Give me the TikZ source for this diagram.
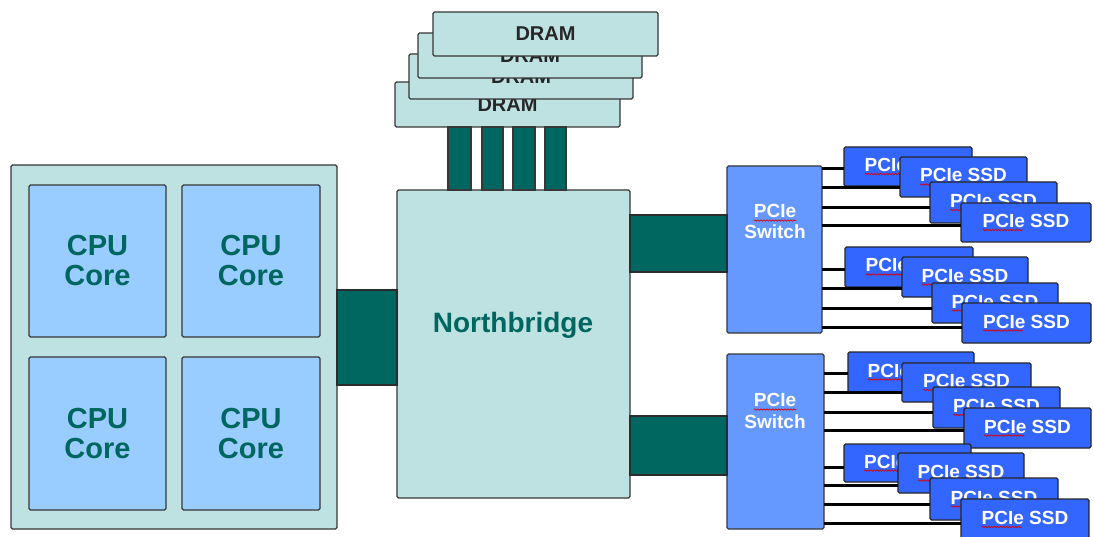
\documentclass[tikz,border=0pt]{standalone}
\usepackage{fontspec}
\setmainfont{Liberation Sans}
\usetikzlibrary{calc,decorations.pathmorphing}
\definecolor{lteal}{RGB}{190,226,226}
\definecolor{corefill}{RGB}{153,204,255}
\definecolor{dteal}{RGB}{0,102,96}
\definecolor{swblue}{RGB}{102,153,255}
\definecolor{ssdblue}{RGB}{51,102,255}
\definecolor{bord}{RGB}{55,55,55}
\tikzset{
 outl/.style={draw=bord, line width=1.3pt, rounded corners=1.5pt, inner sep=0pt, outer sep=0pt},
 lightbox/.style={outl, fill=lteal},
 corebox/.style={outl, fill=corefill, text=dteal, font=\bfseries\fontsize{29}{30}\selectfont, align=center},
 linkbar/.style={draw=bord!80!black, line width=1.2pt, fill=dteal},
 drambox/.style={lightbox, font=\bfseries\fontsize{20}{22}\selectfont, text=black!85},
 chanbox/.style={outl, fill=dteal, rounded corners=0pt},
 swbox/.style={outl, fill=swblue},
 ssdbox/.style={outl, fill=ssdblue, draw=black!85},
 wtxt/.style={text=white, font=\bfseries\fontsize{19}{21}\selectfont, inner sep=0pt, outer sep=0pt},
 nbtxt/.style={text=dteal, font=\bfseries\fontsize{28}{30}\selectfont, inner sep=0pt},
 squig/.style={draw=red!85!black, line width=0.7pt, decorate, decoration={snake, amplitude=0.7pt, segment length=3pt}},
 bus/.style={draw=black, line width=3pt},
}
\newcommand\mybox[7]{\node[#1, minimum width={(#5-#3)*1pt}, minimum height={(#6-#4)*1pt}] (#2) at ({(#3+#5)/2},{(#4+#6)/2}) {#7};}
\newcommand\ssd[5]{\mybox{ssdbox}{#1}{#2}{#3}{#4}{#5}{}%
 \node[wtxt, anchor=base] (#1t) at ($(#1.center)+(0,5)$) {PCIe SSD};%
 \draw[squig] ($(#1t.base west)+(0,2.5)$) -- ++(40,0);}
\begin{document}
\begin{tikzpicture}[x=1pt,y=-1pt]
\useasboundingbox (0,0) rectangle (1094,537);
\fill[white] (0,0) rectangle (1094,537);
\foreach \y in {290,385,215,272,416,475,127,190,169,188,208,226,269,288,308,327,373,392,412,430,467,485,504,523}
  \coordinate (y\y) at (0,\y);
% CPU
\mybox{lightbox}{cpu}{11}{165}{337}{529}{}
\mybox{corebox}{c1}{29}{185}{166}{337}{CPU\\Core}
\mybox{corebox}{c2}{182}{185}{320}{337}{CPU\\Core}
\mybox{corebox}{c3}{29}{357}{166}{510}{CPU\\Core}
\mybox{corebox}{c4}{182}{357}{320}{510}{CPU\\Core}
% Northbridge
\mybox{lightbox}{nb}{397}{190}{630}{498}{}
\node[nbtxt] (nbt) at (513,325) {Northbridge};
\draw[linkbar] (cpu.east |- y290) rectangle (nb.west |- y385);
% DRAM
\mybox{drambox}{d4}{395}{82}{620}{127}{DRAM}
\mybox{drambox}{d3}{409}{54}{633}{99}{DRAM}
\mybox{drambox}{d2}{418}{33}{642}{78}{DRAM}
\mybox{drambox}{d1}{433}{12}{658}{56}{DRAM}
\mybox{chanbox}{m1}{448}{127}{471}{190}{}
\mybox{chanbox}{m2}{482}{127}{503}{190}{}
\mybox{chanbox}{m3}{513}{127}{535}{190}{}
\mybox{chanbox}{m4}{545}{127}{566}{190}{}
% switches
\mybox{swbox}{sw1}{727}{166}{822}{333}{}
\mybox{swbox}{sw2}{727}{354}{824}{529}{}
\draw[linkbar] (nb.east |- y215) rectangle (sw1.west |- y272);
\draw[linkbar] (nb.east |- y416) rectangle (sw2.west |- y475);
\node[wtxt] (s1a) at (775,211) {PCIe};
\node[wtxt] (s1b) at (775,232) {Switch};
\draw[squig] ($(s1a.base west)+(0,3)$) -- ($(s1a.base east)+(0,3)$);
\node[wtxt] (s2a) at (775,400) {PCIe};
\node[wtxt] (s2b) at (775,422) {Switch};
\draw[squig] ($(s2a.base west)+(0,3)$) -- ($(s2a.base east)+(0,3)$);
% SSDs group 1
\ssd{A}{844}{147}{972}{186}
\ssd{B}{900}{157}{1027}{197}
\ssd{C}{930}{182}{1057}{223}
\ssd{D}{961}{203}{1091}{242}
% group 2
\ssd{E}{845}{247}{973}{287}
\ssd{F}{902}{257}{1028}{297}
\ssd{G}{932}{283}{1058}{323}
\ssd{H}{962}{303}{1091}{343}
% group 3
\ssd{I}{848}{352}{974}{392}
\ssd{J}{902}{363}{1031}{402}
\ssd{K}{933}{387}{1060}{428}
\ssd{L}{964}{408}{1091}{448}
% group 4
\ssd{M}{844}{444}{971}{482}
\ssd{N}{898}{453}{1024}{493}
\ssd{O}{930}{478}{1058}{520}
\ssd{P}{961}{499}{1089}{540}
% buses
\draw[bus] (sw1.east |- y169) -- (A.west |- y169);
\draw[bus] (sw1.east |- y188) -- (B.west |- y188);
\draw[bus] (sw1.east |- y208) -- (C.west |- y208);
\draw[bus] (sw1.east |- y226) -- (D.west |- y226);
\draw[bus] (sw1.east |- y269) -- (E.west |- y269);
\draw[bus] (sw1.east |- y288) -- (F.west |- y288);
\draw[bus] (sw1.east |- y308) -- (G.west |- y308);
\draw[bus] (sw1.east |- y327) -- (H.west |- y327);
\draw[bus] (sw2.east |- y373) -- (I.west |- y373);
\draw[bus] (sw2.east |- y392) -- (J.west |- y392);
\draw[bus] (sw2.east |- y412) -- (K.west |- y412);
\draw[bus] (sw2.east |- y430) -- (L.west |- y430);
\draw[bus] (sw2.east |- y467) -- (M.west |- y467);
\draw[bus] (sw2.east |- y485) -- (N.west |- y485);
\draw[bus] (sw2.east |- y504) -- (O.west |- y504);
\draw[bus] (sw2.east |- y523) -- (P.west |- y523);
\end{tikzpicture}
\end{document}
